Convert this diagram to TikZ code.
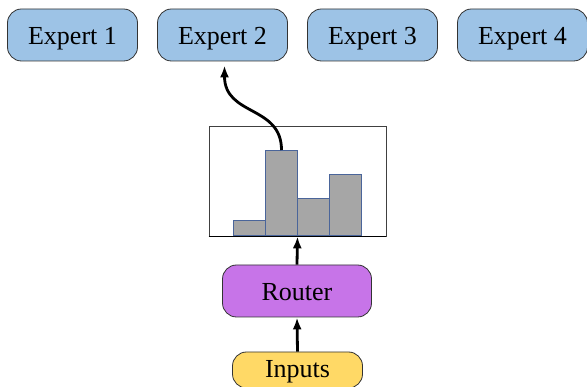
\documentclass[tikz,border=0pt]{standalone}
\usepackage{fontspec}
\setmainfont{Liberation Serif}
\usetikzlibrary{arrows.meta}
\definecolor{expblue}{HTML}{9DC3E6}
\definecolor{routerpurple}{HTML}{C774E8}
\definecolor{inputyellow}{HTML}{FFD966}
\definecolor{barfill}{HTML}{A6A6A6}
\definecolor{baredge}{HTML}{4A659A}
\begin{document}
\begin{tikzpicture}[x=1pt,y=-1pt,
  box/.style={draw=black!80, rounded corners=14pt, line width=0.8pt, inner sep=0pt,
    minimum width=130pt, minimum height=52pt, text height=20pt, text depth=0pt,
    font=\fontsize{26}{30}\selectfont},
  expert/.style={box, fill=expblue},
  barbox/.style={draw=baredge, fill=barfill, line width=1pt, inner sep=0pt,
    minimum width=32pt, anchor=south west},
  arr/.style={-{Latex[length=12pt,width=9pt]}, line width=2.8pt, black}
]
\useasboundingbox (0,0) rectangle (587,387);
\node[expert] (e1) at (72.5,35) {Expert 1};
\node[expert] (e2) at (222.5,35) {Expert 2};
\node[expert] (e3) at (372.5,35) {Expert 3};
\node[expert] (e4) at (522.5,35) {Expert 4};

\node[draw=black!75, line width=0.7pt, minimum width=177pt, minimum height=110pt, inner sep=0pt] (hist) at (297.5,181) {};
\node[barbox, minimum height=15pt] (b1) at (233,236) {};
\node[barbox, minimum height=85pt] (b2) at (265,236) {};
\node[barbox, minimum height=37pt] (b3) at (297,236) {};
\node[barbox, minimum height=61pt] (b4) at (329,236) {};
\draw[black, line width=1.1pt] (hist.south west) -- (hist.south east);

\node[box, fill=routerpurple, minimum width=149pt] (router) at (297,291) {Router};
\node[box, fill=inputyellow, minimum height=36pt, text height=16pt] (inputs) at (297.5,370) {Inputs};

\draw[arr] (inputs.north) -- (router.south);
\draw[arr] (router.north) -- (hist.south);
\draw[arr, shorten >=4pt] (b2.north) .. controls +(0,-45) and +(0,55) .. ([xshift=2pt]e2.south);
\end{tikzpicture}
\end{document}
